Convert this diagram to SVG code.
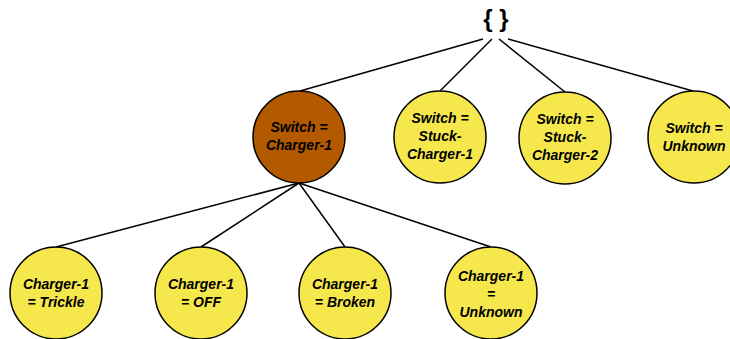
<svg xmlns="http://www.w3.org/2000/svg" width="730" height="339" viewBox="0 0 730 339">
  <style>
    .edge { stroke: #000; stroke-width: 1.5; fill: none; }
    .node { stroke: #000; stroke-width: 1.5; fill: #F6E84C; }
    .sel { fill: #B35A00; }
    .lbl { font-family: "Liberation Sans", Arial, sans-serif; font-size: 14px; font-weight: bold; font-style: italic; fill: #000; text-anchor: middle; }
    .root { font-family: "Liberation Sans", Arial, sans-serif; font-size: 24px; font-weight: bold; fill: #000; text-anchor: middle; }
  </style>
  <rect width="730" height="339" fill="#fff"/>

  <g id="connectors">
    <line class="edge" x1="483" y1="39" x2="300" y2="91"/>
    <line class="edge" x1="492" y1="39" x2="440" y2="91"/>
    <line class="edge" x1="499" y1="39" x2="565" y2="92"/>
    <line class="edge" x1="508" y1="39" x2="693" y2="91"/>
    <line class="edge" x1="299" y1="183" x2="56" y2="247"/>
    <line class="edge" x1="299" y1="183" x2="201" y2="247"/>
    <line class="edge" x1="299" y1="183" x2="345" y2="247"/>
    <line class="edge" x1="299" y1="183" x2="491" y2="247"/>
  </g>

  <g id="root">
    <text class="root" x="496" y="27">{ }</text>
  </g>

  <g id="switch-charger1">
    <circle class="node sel" cx="299" cy="137" r="46"/>
    <text class="lbl" x="299" y="132">Switch =</text>
    <text class="lbl" x="299" y="150">Charger-1</text>
  </g>

  <g id="switch-stuck1">
    <circle class="node" cx="440" cy="137" r="46"/>
    <text class="lbl" x="440" y="123">Switch =</text>
    <text class="lbl" x="440" y="141">Stuck-</text>
    <text class="lbl" x="440" y="159">Charger-1</text>
  </g>

  <g id="switch-stuck2">
    <circle class="node" cx="565" cy="138" r="46"/>
    <text class="lbl" x="565" y="124">Switch =</text>
    <text class="lbl" x="565" y="142">Stuck-</text>
    <text class="lbl" x="565" y="160">Charger-2</text>
  </g>

  <g id="switch-unknown">
    <circle class="node" cx="694" cy="137" r="46"/>
    <text class="lbl" x="694" y="133">Switch =</text>
    <text class="lbl" x="694" y="151">Unknown</text>
  </g>

  <g id="charger-trickle">
    <circle class="node" cx="56" cy="293" r="46"/>
    <text class="lbl" x="56" y="289">Charger-1</text>
    <text class="lbl" x="56" y="307">= Trickle</text>
  </g>

  <g id="charger-off">
    <circle class="node" cx="201" cy="293" r="46"/>
    <text class="lbl" x="201" y="289">Charger-1</text>
    <text class="lbl" x="201" y="307">= OFF</text>
  </g>

  <g id="charger-broken">
    <circle class="node" cx="345" cy="293" r="46"/>
    <text class="lbl" x="345" y="289">Charger-1</text>
    <text class="lbl" x="345" y="307">= Broken</text>
  </g>

  <g id="charger-unknown">
    <circle class="node" cx="491" cy="293" r="46"/>
    <text class="lbl" x="491" y="281">Charger-1</text>
    <text class="lbl" x="491" y="299">=</text>
    <text class="lbl" x="491" y="317">Unknown</text>
  </g>
</svg>
